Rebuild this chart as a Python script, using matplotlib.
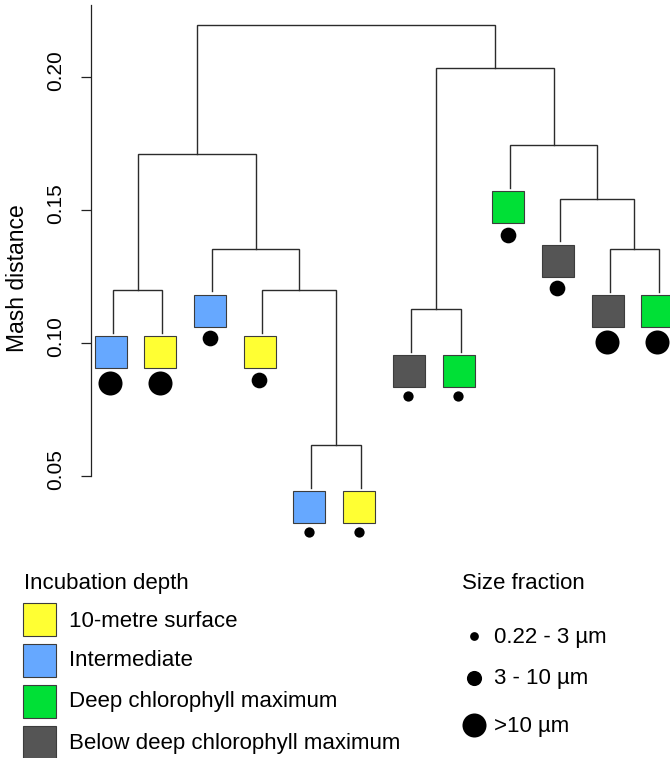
import matplotlib
matplotlib.use('Agg')
import matplotlib.pyplot as plt
from matplotlib import transforms
from matplotlib.patches import Rectangle

plt.rcParams['font.family'] = ['Liberation Sans', 'DejaVu Sans']

# ---------------- data ----------------
depth_categories = ['10-metre surface', 'Intermediate', 'Deep chlorophyll maximum',
                    'Below deep chlorophyll maximum']
depth_colors = ['#FFFF33', '#66A8FF', '#00E036', '#555555']
size_categories = ['0.22 - 3 µm', '3 - 10 µm', '>10 µm']

# leaves in display order (left to right)
leaf_depth = ['Intermediate', '10-metre surface', 'Intermediate', '10-metre surface',
              'Intermediate', '10-metre surface', 'Below deep chlorophyll maximum',
              'Deep chlorophyll maximum', 'Deep chlorophyll maximum',
              'Below deep chlorophyll maximum', 'Below deep chlorophyll maximum',
              'Deep chlorophyll maximum']
leaf_size = ['>10 µm', '>10 µm', '3 - 10 µm', '3 - 10 µm', '0.22 - 3 µm', '0.22 - 3 µm',
             '0.22 - 3 µm', '0.22 - 3 µm', '3 - 10 µm', '3 - 10 µm', '>10 µm', '>10 µm']

# R-style merge table: negative = leaf (1-based display position), positive = earlier merge
merge_left = [-5, -1, -4, -3, 2, -7, -11, -10, -9, 6, 5]
merge_right = [-6, -2, 1, 3, 4, -8, -12, 7, 8, 9, 10]
merge_height = [0.0616, 0.1199, 0.1199, 0.1354, 0.1708, 0.1127, 0.1353, 0.1541,
                0.1743, 0.2034, 0.2194]
hang = 0.016

y_ticks = [0.05, 0.10, 0.15, 0.20]
y_label = 'Mash distance'
legend_depth_title = 'Incubation depth'
legend_size_title = 'Size fraction'

# ---------------- styles ----------------
W, H = 670, 758
line_col = '#2b2b2b'
size_ms = {'0.22 - 3 µm': 7.4, '3 - 10 µm': 11.3, '>10 µm': 17.3}
size_gap = {'0.22 - 3 µm': 25, '3 - 10 µm': 27.5, '>10 µm': 31}
color_of = dict(zip(depth_categories, depth_colors))

fig = plt.figure(figsize=(W / 100, H / 100), dpi=100)
ax = fig.add_axes([91 / W, 1 - 545 / H, 579 / W, 545 / H])
ax.set_xlim(0.5633, 12.2156)
ax.set_ylim(0.05 - 69 / 2662, 0.05 + 476 / 2662)

# ---------------- dendrogram ----------------
n_leaves = len(leaf_depth)
node_x = {}
node_h = {}


def child_pos(c, parent_h):
    if c < 0:
        return float(-c), parent_h - hang
    return node_x[c], node_h[c]


leaf_end = {}
for i, (l, r, h) in enumerate(zip(merge_left, merge_right, merge_height), start=1):
    xl, hl = child_pos(l, h)
    xr, hr = child_pos(r, h)
    if l < 0:
        leaf_end[-l] = hl
    if r < 0:
        leaf_end[-r] = hr
    ax.plot([xl, xl, xr, xr], [hl, h, h, hr], color=line_col, lw=1.0,
            solid_joinstyle='miter', clip_on=False)
    node_x[i] = (xl + xr) / 2
    node_h[i] = h

for k in range(1, n_leaves + 1):
    d = leaf_depth[k - 1]
    s = leaf_size[k - 1]
    tr_sq = transforms.offset_copy(ax.transData, fig=fig, x=-2, y=-19.5, units='dots')
    ax.plot([k], [leaf_end[k]], marker='s', ms=23.3, mfc=color_of[d], mec='#3c3c3c',
            mew=0.8, transform=tr_sq, clip_on=False, zorder=3)
    tr_c = transforms.offset_copy(ax.transData, fig=fig, x=-2.5,
                                  y=-19.5 - size_gap[s], units='dots')
    ax.plot([k], [leaf_end[k]], marker='o', ms=size_ms[s], mfc='black', mec='black',
            mew=0, transform=tr_c, clip_on=False, zorder=3)

# ---------------- axis ----------------
for sp in ['top', 'right', 'bottom']:
    ax.spines[sp].set_visible(False)
ax.spines['left'].set_bounds(0.05, 0.05 + 471 / 2662)
ax.spines['left'].set_linewidth(0.9)
ax.spines['left'].set_color('#222222')
ax.set_xticks([])
ax.set_yticks(y_ticks)
ax.set_yticklabels(['%.2f' % t for t in y_ticks], rotation=90, va='center', fontsize=15)
ax.tick_params(axis='y', length=7.2, width=0.9, color='#222222', pad=11.5)
shift = transforms.ScaledTranslation(0, 6.5 / 100, fig.dpi_scale_trans)
for lab in ax.get_yticklabels():
    lab.set_transform(lab.get_transform() + shift)
fig.text(18 / W, 1 - 278 / H, y_label, rotation=90, ha='center', va='center', fontsize=16.5)

# ---------------- legends ----------------
lax = fig.add_axes([0, 0, 1, 1])
lax.set_xlim(0, W)
lax.set_ylim(H, 0)
lax.axis('off')

lax.text(24.5, 589, legend_depth_title, fontsize=16, va='baseline', ha='left')
sq_tops = [603.3, 644.3, 685.3, 726.3]
txt_base = [626.7, 666.5, 707.5, 749]
for cat, col, top, base in zip(depth_categories, depth_colors, sq_tops, txt_base):
    lax.add_patch(Rectangle((22.7, top), 33, 32.5, facecolor=col, edgecolor='#3c3c3c', lw=0.8))
    lax.text(68.6, base, cat, fontsize=16, va='baseline', ha='left')

lax.text(462, 589, legend_size_title, fontsize=16, va='baseline', ha='left')
dot_y = [636, 677.7, 725]
size_base = [642.7, 684, 732]
legend_ms = {'0.22 - 3 µm': 6.3, '3 - 10 µm': 10.9, '>10 µm': 17.3}
for cat, y, base in zip(size_categories, dot_y, size_base):
    lax.plot([473.5], [y], marker='o', ms=legend_ms[cat], mfc='black', mec='black', mew=0)
    lax.text(493.6, base, cat, fontsize=16, va='baseline', ha='left')

fig.savefig('out.png', dpi=100)
